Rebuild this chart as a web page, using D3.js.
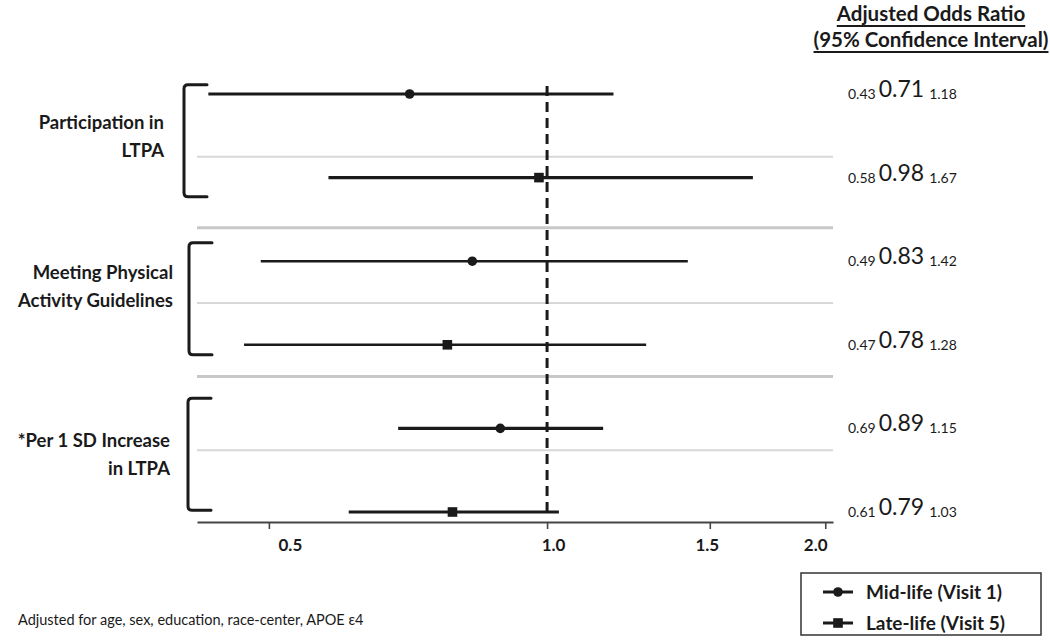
<!DOCTYPE html>
<html>
<head>
<meta charset="utf-8">
<script src="https://cdn.jsdelivr.net/npm/d3@7"></script>
<style>
  html, body { margin: 0; padding: 0; background: #fff; }
  svg { display: block; }
  text { font-family: Lato, "Open Sans", sans-serif; fill: #1a1a1a; }
</style>
</head>
<body>
<svg id="chart" width="1050" height="641"></svg>
<script>
// ---- data ----
const groupLabels = [
  ["Participation in", "LTPA"],
  ["Meeting Physical", "Activity Guidelines"],
  ["*Per 1 SD Increase", "in LTPA"]
];
const periods = ["Mid-life (Visit 1)", "Late-life (Visit 5)"];
const oddsRatios = [0.71, 0.98, 0.83, 0.78, 0.89, 0.79];
const ciLower    = [0.43, 0.58, 0.49, 0.47, 0.69, 0.61];
const ciUpper    = [1.18, 1.67, 1.42, 1.28, 1.15, 1.03];
const tickValues = [0.5, 1.0, 1.5, 2.0];
const headerLines = ["Adjusted Odds Ratio", "(95% Confidence Interval)"];
const footnote = "Adjusted for age, sex, education, race-center, APOE \u03b54";

// ---- layout (row units / pixel offsets, not data) ----
const separators = [
  {pos: 0.75, major: false}, {pos: 1.6, major: true},
  {pos: 2.5, major: false}, {pos: 3.38, major: true},
  {pos: 4.26, major: false}
];
const bracketSpans = [[-0.11, 1.23], [1.78, 3.12], [3.64, 4.98]];
const labelCenters = [0.5, 2.3, 4.31];
const labelRight = [164, 173, 170];
const bracketX = [184, 189, 188];
const tickLabelShift = [21, 6, -3, -10];

const rows = oddsRatios.map((v, i) => ({
  or: v, lo: ciLower[i], hi: ciUpper[i], group: Math.floor(i / 2), period: i % 2, idx: i
}));

const svg = d3.select("#chart");
const x = d3.scaleLog().domain([0.418, 2.039]).range([197, 833]);
const y = d3.scaleLinear().domain([0, 5]).range([94, 512]);
const fmt = d3.format(".2f");

// separators
svg.append("g").selectAll("line").data(separators).join("line")
  .attr("x1", x.range()[0]).attr("x2", x.range()[1])
  .attr("y1", d => y(d.pos)).attr("y2", d => y(d.pos))
  .attr("stroke", d => d.major ? "#c8c8c8" : "#d8d8d8")
  .attr("stroke-width", d => d.major ? 3 : 2);

// brackets
const bracketPath = (g) => {
  const bx = bracketX[g], top = y(bracketSpans[g][0]), bot = y(bracketSpans[g][1]);
  const arm = bx + 23, r = 4;
  return `M${arm},${top} L${bx + r},${top} Q${bx},${top} ${bx},${top + r} L${bx},${bot - r} Q${bx},${bot} ${bx + r},${bot} L${arm},${bot}`;
};
svg.append("g").selectAll("path").data(groupLabels).join("path")
  .attr("d", (d, g) => bracketPath(g))
  .attr("fill", "none").attr("stroke", "#1a1a1a").attr("stroke-width", 3)
  .attr("stroke-linecap", "round");

// group labels
svg.append("g").selectAll("text").data(groupLabels).join("text")
  .attr("text-anchor", "end")
  .attr("font-weight", "bold")
  .attr("font-size", 18.5)
  .each(function(lines, g) {
    const t = d3.select(this);
    lines.forEach((ln, k) => {
      t.append("tspan").attr("x", labelRight[g])
        .attr("y", y(labelCenters[g]) + (k - 0.5) * 28 + 7)
        .text(ln);
    });
  });

// axis
const axis = d3.axisBottom(x).tickValues(tickValues).tickFormat(d3.format(".1f"))
  .tickSize(7).tickPadding(10).tickSizeOuter(0);
const axG = svg.append("g").attr("transform", "translate(0,522)").call(axis);
axG.select(".domain").attr("stroke", "#444").attr("stroke-width", 1.8);
axG.selectAll(".tick line").attr("stroke", "#444").attr("stroke-width", 1.6);
axG.selectAll(".tick text").attr("font-family", "Lato, sans-serif")
  .attr("font-size", 17).attr("font-weight", "bold").attr("fill", "#1a1a1a")
  .attr("dx", (d, i) => tickLabelShift[i]);

// reference line at OR = 1
svg.append("line")
  .attr("x1", x(1)).attr("x2", x(1))
  .attr("y1", y(0) - 8).attr("y2", y(5) + 3)
  .attr("stroke", "#1a1a1a").attr("stroke-width", 3)
  .attr("stroke-dasharray", "10,6");

// CI lines
svg.append("g").selectAll("line").data(rows).join("line")
  .attr("x1", d => x(d.lo)).attr("x2", d => x(d.hi))
  .attr("y1", d => y(d.idx)).attr("y2", d => y(d.idx))
  .attr("stroke", "#1a1a1a")
  .attr("stroke-width", d => d.group === 1 ? 2.4 : 3.2);

// markers
const marker = (sel, period, cx, cy) => {
  if (period === 0) {
    sel.append("circle").attr("cx", cx).attr("cy", cy).attr("r", 4.8).attr("fill", "#1a1a1a");
  } else {
    sel.append("rect").attr("x", cx - 4.8).attr("y", cy - 4.8).attr("width", 9.6).attr("height", 9.6).attr("fill", "#1a1a1a");
  }
};
const mG = svg.append("g");
rows.forEach(d => marker(mG, d.period, x(d.or), y(d.idx)));

// value labels
const vG = svg.append("g");
rows.forEach(d => {
  const t = vG.append("text").attr("x", 848).attr("y", y(d.idx) + 3);
  t.append("tspan").attr("font-size", 14).attr("dy", 2).text(fmt(d.lo));
  t.append("tspan").attr("font-size", 23).attr("dx", 3).attr("dy", -2).text(fmt(d.or));
  t.append("tspan").attr("font-size", 14).attr("dx", 5).attr("dy", 2).text(fmt(d.hi));
});

// header
const hG = svg.append("g");
const hx = 931;
headerLines.forEach((ln, k) => {
  const by = 21 + k * 26;
  const t = hG.append("text").attr("x", hx).attr("y", by)
    .attr("text-anchor", "middle").attr("font-weight", "bold").attr("font-size", 20.5).text(ln);
  const w = t.node().getComputedTextLength();
  hG.append("line").attr("x1", hx - w / 2).attr("x2", hx + w / 2)
    .attr("y1", by + 5).attr("y2", by + 5)
    .attr("stroke", "#1a1a1a").attr("stroke-width", 2);
});

// legend
const lg = svg.append("g");
lg.append("rect").attr("x", 801).attr("y", 573).attr("width", 240).attr("height", 62)
  .attr("fill", "#fff").attr("stroke", "#333").attr("stroke-width", 1.5);
periods.forEach((p, k) => {
  const cy = 592 + k * 31;
  lg.append("line").attr("x1", 823).attr("x2", 853).attr("y1", cy).attr("y2", cy)
    .attr("stroke", "#1a1a1a").attr("stroke-width", 3);
  marker(lg, k, 838, cy);
  lg.append("text").attr("x", 866).attr("y", cy + 6.5)
    .attr("font-weight", "bold").attr("font-size", 19).text(p);
});

// footnote
svg.append("text").attr("x", 18).attr("y", 625).attr("font-size", 14.5).text(footnote);
</script>
</body>
</html>
